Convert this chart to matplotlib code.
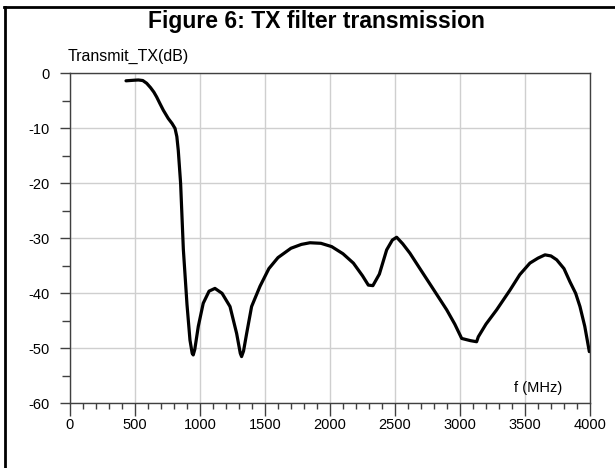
import matplotlib.pyplot as plt
from matplotlib.lines import Line2D
from matplotlib.ticker import MultipleLocator

plt.rcParams['font.family'] = ['Liberation Sans', 'DejaVu Sans']
plt.rcParams['axes.unicode_minus'] = False

# curve: frequency (MHz) and transmission (dB)
freq = [431, 490, 526, 560, 590, 620, 645, 667, 690, 718, 756, 785, 808, 822,
        833, 851, 872, 900, 923, 940, 948, 960, 987, 1025, 1070, 1115, 1170,
        1231, 1282, 1310, 1320, 1335, 1359, 1397, 1462, 1530, 1600, 1700,
        1780, 1846, 1930, 2013, 2100, 2180, 2250, 2295, 2330, 2380, 2436,
        2480, 2513, 2560, 2615, 2700, 2780, 2898, 2960, 3013, 3080, 3128,
        3141, 3200, 3282, 3385, 3460, 3538, 3600, 3654, 3700, 3744, 3800,
        3846, 3890, 3923, 3960, 3995]
db = [-1.35, -1.25, -1.2, -1.3, -1.8, -2.6, -3.4, -4.3, -5.4, -6.7, -8.2, -9.1,
      -10.0, -11.5, -14.0, -20.0, -32.0, -42.0, -48.5, -50.9, -51.2, -50.2, -46.0,
      -41.8, -39.6, -39.1, -40.0, -42.4, -47.3, -50.9, -51.5, -50.5, -47.3, -42.4,
      -38.7, -35.5, -33.5, -31.8, -31.1, -30.8, -30.9, -31.5, -32.8, -34.5, -36.8,
      -38.5, -38.6, -36.5, -32.1, -30.3, -29.8, -31.0, -32.7, -35.8, -38.7, -43.0,
      -45.6, -48.2, -48.6, -48.8, -47.9, -45.6, -43.0, -39.4, -36.6, -34.5, -33.6,
      -33.0, -33.2, -33.9, -35.5, -37.9, -40.0, -42.4, -46.0, -50.6]

x_ticks = [0, 500, 1000, 1500, 2000, 2500, 3000, 3500, 4000]
y_ticks = [0, -10, -20, -30, -40, -50, -60]

fig = plt.figure(figsize=(6.15, 4.68), dpi=100)
ax = fig.add_axes([0.1138, 0.1382, 0.8455, 0.705])

ax.plot(freq, db, color="black", lw=2.3, solid_capstyle="round",
        solid_joinstyle="round")

ax.set_xlim(0, 4000)
ax.set_ylim(-60, 0)
ax.set_xticks(x_ticks)
ax.set_yticks(y_ticks)
ax.xaxis.set_minor_locator(MultipleLocator(100))
ax.yaxis.set_minor_locator(MultipleLocator(5))
ax.grid(True, which="major", color="#cfcfcf", lw=1)

spine_col = "#404040"
for s in ax.spines.values():
    s.set_color(spine_col)
    s.set_linewidth(1)

ax.tick_params(axis="x", which="major", direction="out", length=9, width=1,
               color=spine_col, labelsize=10.5, pad=1.5)
ax.tick_params(axis="x", which="minor", direction="out", length=4.5, width=1,
               color=spine_col)
ax.tick_params(axis="y", which="major", direction="out", length=7, width=1,
               color=spine_col, labelsize=10.5, pad=8)
ax.tick_params(axis="y", which="minor", direction="out", length=6, width=1,
               color=spine_col)

ax.text(3600, -57.2, "f (MHz)", fontsize=10.5, ha="center", va="center")
fig.text(0.1106, 0.879, "Transmit_TX(dB)", fontsize=11.5, ha="left", va="center")
fig.text(0.514, 0.955, "Figure 6: TX filter transmission", fontsize=16.5,
         fontweight="bold", ha="center", va="center")

# page frame: top and left rule
fig.add_artist(Line2D([0.0065, 1.0], [0.985, 0.985], color="black", lw=2,
                      transform=fig.transFigure))
fig.add_artist(Line2D([0.0081, 0.0081], [0.0, 0.985], color="black", lw=2,
                      transform=fig.transFigure))

fig.savefig("out.png", dpi=100)
